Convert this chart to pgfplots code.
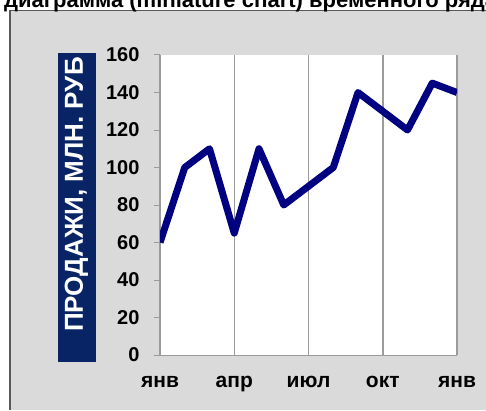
\documentclass[border=0pt]{standalone}
\usepackage{pgfplots}
\pgfplotsset{compat=1.18}
\usepackage{fontspec}
\setmainfont{Liberation Sans}
\definecolor{bgc}{RGB}{218,218,218}
\definecolor{navyline}{RGB}{0,0,128}
\definecolor{navybox}{RGB}{8,36,100}
\definecolor{gridc}{RGB}{155,155,155}
\begin{document}
\begin{tikzpicture}[x=1pt,y=1pt]
\useasboundingbox (0,0) rectangle (486,410);
\fill[bgc] (9,0) rectangle (486,400);
\draw[gray!70!black, line width=1.5pt] (9.75,0) -- (9.75,399.25) -- (486,399.25);
\node[anchor=base west, font=\bfseries\fontsize{22}{26}\selectfont, inner sep=0] at (4,402) {диаграмма (miniature chart) временного ряда};
\fill[navybox] (58,48) rectangle (96,357);
\node[rotate=90, anchor=west, inner sep=0, text=white, font=\bfseries\fontsize{26}{30}\selectfont] at (76.5,78) {ПРОДАЖИ, МЛН. РУБ};
\begin{axis}[
  at={(160pt,55pt)}, anchor=south west,
  width=297pt, height=300pt, scale only axis,
  xmin=0, xmax=12, ymin=0, ymax=160,
  axis background/.style={fill=white},
  axis x line*=bottom, axis y line*=left,
  axis line style={gridc, line width=1pt},
  xtick={0,3,6,9,12},
  xticklabels={янв,апр,июл,окт,янв},
  ytick={0,20,...,160},
  xmajorgrids,
  major grid style={gridc, line width=1.5pt},
  xtick style={draw=none},
  ytick style={gridc, line width=1pt},
  tick align=outside, major tick length=6pt,
  /pgf/number format/assume math mode=true,
  xticklabel style={anchor=base, yshift=-26pt, font=\bfseries\fontsize{21}{24}\selectfont},
  yticklabel style={anchor=east, xshift=-11pt, font=\bfseries\fontsize{20}{22}\selectfont},
]
\addplot[navyline, line width=7pt, line join=round] coordinates {
(0,60) (1,100) (2,110) (3,65) (4,110) (5,80) (6,90) (7,100) (8,140) (9,130) (10,120) (11,145) (12,140)
};
\end{axis}
\end{tikzpicture}
\end{document}
